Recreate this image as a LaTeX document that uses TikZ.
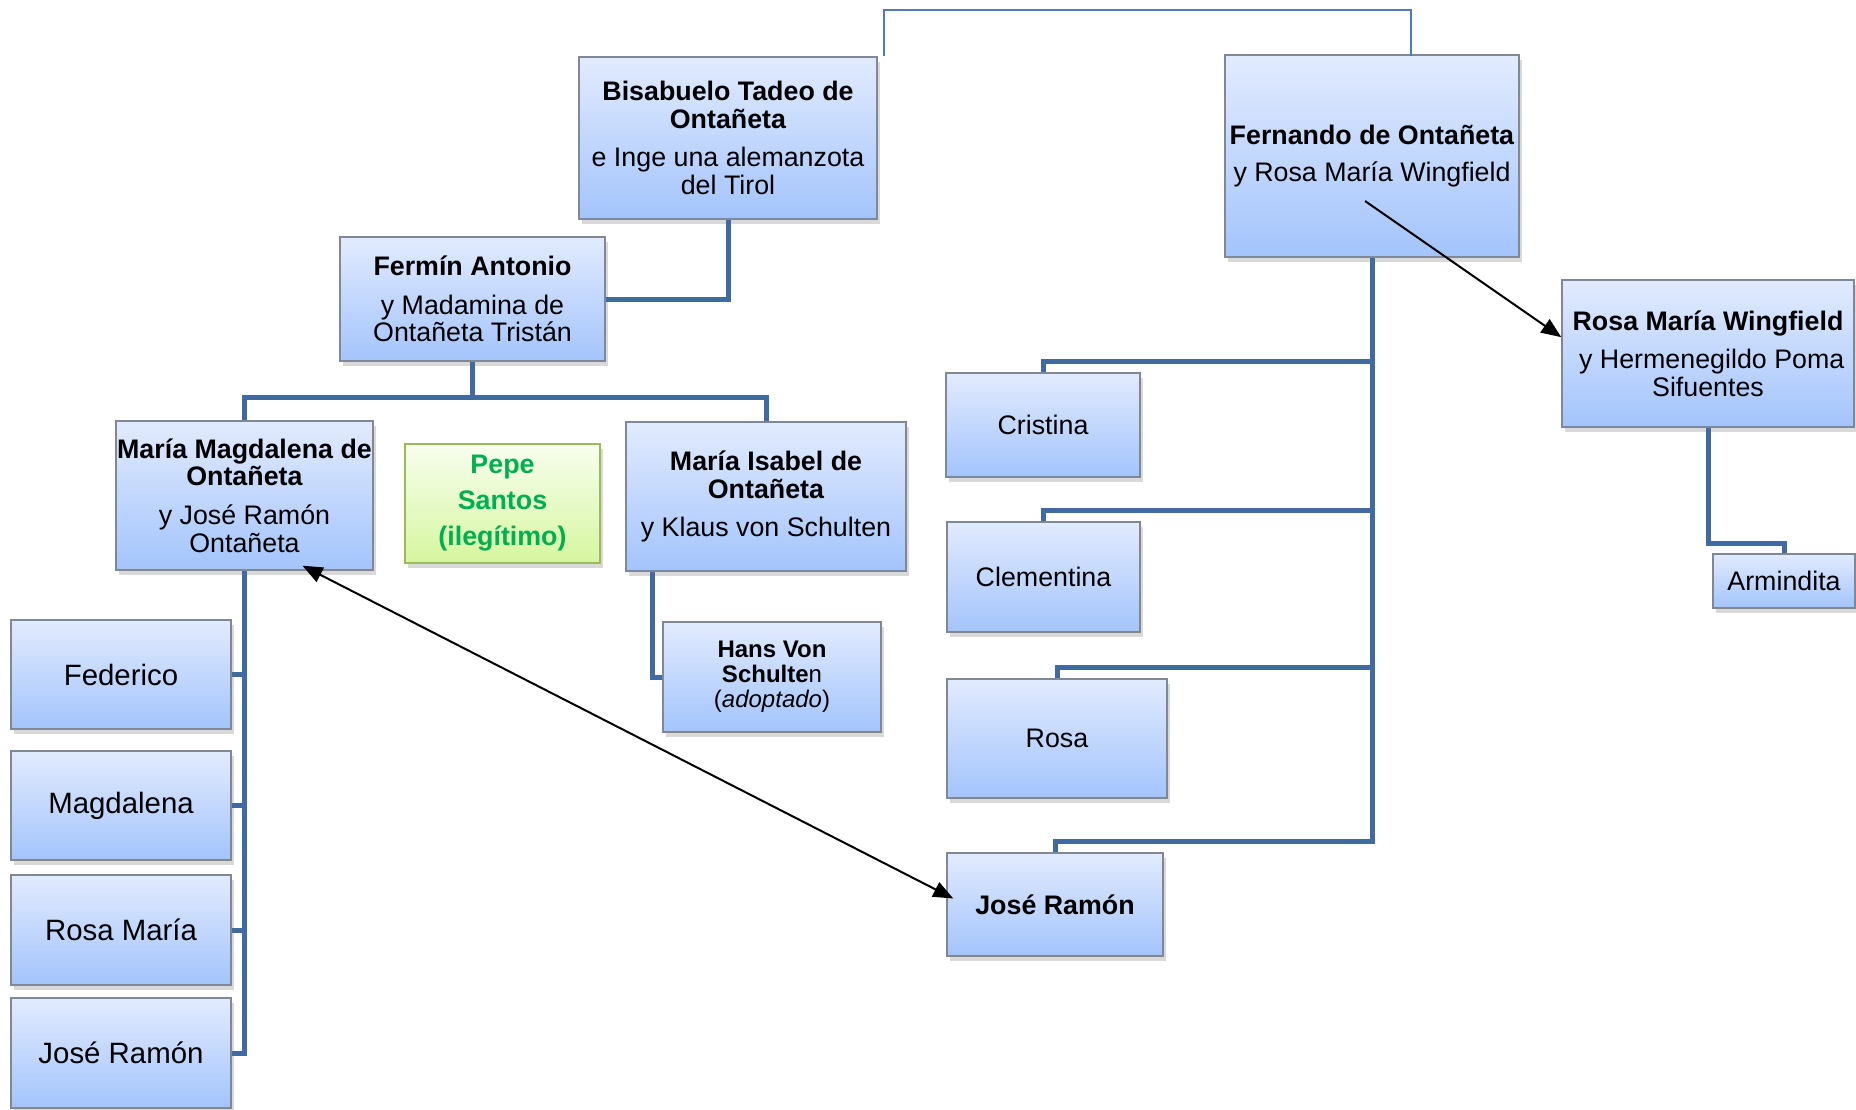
\documentclass[tikz,border=0pt]{standalone}
\usepackage{fontspec}
\setmainfont{Liberation Sans}
\usetikzlibrary{shadows,arrows.meta,calc}
\definecolor{boxtop}{RGB}{226,235,254}
\definecolor{boxbot}{RGB}{163,196,252}
\definecolor{boxline}{RGB}{128,136,150}
\definecolor{connblue}{RGB}{64,106,160}
\definecolor{thinblue}{RGB}{79,125,185}
\definecolor{pepetop}{RGB}{248,254,238}
\definecolor{pepebot}{RGB}{214,246,160}
\definecolor{pepeline}{RGB}{155,187,89}
\definecolor{pepetext}{RGB}{0,176,80}
\begin{document}
\begin{tikzpicture}[x=0.5pt,y=-0.5pt,
  box/.style={draw=boxline, line width=0.7pt, top color=boxtop, bottom color=boxbot,
    inner sep=0pt, align=center, font=\fontsize{13.4}{13.8}\selectfont,
    drop shadow={shadow xshift=1.5pt, shadow yshift=-2.5pt, opacity=0.3}},
  pepebox/.style={draw=pepeline, line width=1pt, top color=pepetop, bottom color=pepebot,
    inner sep=0pt, align=center, text=pepetext,
    font=\fontsize{13.4}{18}\selectfont\bfseries,
    drop shadow={shadow xshift=1.5pt, shadow yshift=-2.5pt, opacity=0.3}},
  bigtext/.style={font=\fontsize{14.7}{15.5}\selectfont},
  conn/.style={draw=connblue, line width=2.5pt},
  thinconn/.style={draw=thinblue, line width=1pt},
  arr/.style={line width=1pt, -{Triangle[length=10pt,width=8pt]}},
  darr/.style={line width=1pt, {Triangle[length=10pt,width=8pt]}-{Triangle[length=10pt,width=8pt]}}]
\useasboundingbox (0,0) rectangle (1856,1109);

% nodes
\node[box, minimum width=149pt, minimum height=81pt] (bis) at (728,138)
  {\textbf{Bisabuelo Tadeo de}\\\textbf{Ontañeta}\\[5.5pt]e Inge una alemanzota\\del Tirol};
\node[box, minimum width=147pt, minimum height=101pt] (fer) at (1372,156)
  {\textbf{Fernando de Ontañeta}\\[5pt]y Rosa María Wingfield};
\node[box, minimum width=132.5pt, minimum height=62pt] (fermin) at (472.5,299)
  {\textbf{Fermín Antonio}\\[5.5pt]y Madamina de\\Ontañeta Tristán};
\node[box, minimum width=128.5pt, minimum height=74.5pt] (mm) at (244.5,495.5)
  {\textbf{María Magdalena de}\\\textbf{Ontañeta}\\[5.5pt]y José Ramón\\Ontañeta};
\node[pepebox, minimum width=97.5pt, minimum height=59.5pt] (pepe) at (502.5,503.5)
  {Pepe\\Santos\\(ilegítimo)};
\node[box, minimum width=140pt, minimum height=74.5pt] (mi) at (766,496.5)
  {\textbf{María Isabel de}\\\textbf{Ontañeta}\\[5pt]y Klaus von Schulten};
\node[box, minimum width=109pt, minimum height=55pt, font=\fontsize{12}{12.5}\selectfont] (hans) at (772,677)
  {\textbf{Hans Von}\\\textbf{Schulte}n\\(\textit{adoptado})};
\node[box, bigtext, minimum width=110pt, minimum height=54.5pt] (fed) at (121,674.5) {Federico};
\node[box, bigtext, minimum width=110pt, minimum height=54.5pt] (mag) at (121,805.5) {Magdalena};
\node[box, bigtext, minimum width=110pt, minimum height=55pt] (rm) at (121,930) {Rosa María};
\node[box, bigtext, minimum width=110pt, minimum height=55pt] (jrl) at (121,1053) {José Ramón};
\node[box, minimum width=97pt, minimum height=52pt] (cri) at (1043,425) {Cristina};
\node[box, minimum width=96.5pt, minimum height=55pt] (cle) at (1043.5,577) {Clementina};
\node[box, minimum width=110pt, minimum height=59.5pt] (rosa) at (1057,738.5) {Rosa};
\node[box, minimum width=108pt, minimum height=51.5pt] (jrr) at (1055,904.5) {\textbf{José Ramón}};
\node[box, minimum width=146pt, minimum height=73.5pt] (rmw) at (1708,353.5)
  {\textbf{Rosa María Wingfield}\\[5.5pt]\ y Hermenegildo Poma\\Sifuentes};
\node[box, minimum width=71pt, minimum height=27pt] (arm) at (1784,581) {Armindita};

% thin top connector
\coordinate (t1) at (884,56);
\coordinate (t2) at (1411,56);
\draw[thinconn] (t1) -- ++(0,-46) -| (t2);

% thick connectors
\draw[conn] (bis.south) |- (fermin.east);
\coordinate (j1) at (472.5,397);
\draw[conn] (fermin.south) -- (j1);
\draw[conn] (mm.north) |- (j1);
\draw[conn] (mi.north) |- (j1);
\draw[conn] (mm.south) -- (mm.south |- jrl.east) -- (jrl.east);
\draw[conn] (fed.east) -- (fed.east -| mm.south);
\draw[conn] (mag.east) -- (mag.east -| mm.south);
\draw[conn] (rm.east) -- (rm.east -| mm.south);
\draw[conn] (hans.west) -| ($(mi.south west)+(27,0)$);
\draw[conn] (cri.north) -- ++(0,-11) -| (fer.south);
\draw[conn] (cle.north) -- ++(0,-11) -| (fer.south);
\draw[conn] (rosa.north) -- ++(0,-11) -| (fer.south);
\draw[conn] (jrr.north) -- ++(0,-11) -| (fer.south);
\draw[conn] (rmw.south) -- ++(0,116) -| (arm.north);

% black arrows
\coordinate (a1) at (1365,201);
\draw[arr] (a1) -- ($(rmw.north west)!0.39!(rmw.south west)$);
\draw[darr] ($(mm.south)+(58,-5)$) -- ($(jrr.west)+(7,-6)$);
\end{tikzpicture}
\end{document}
